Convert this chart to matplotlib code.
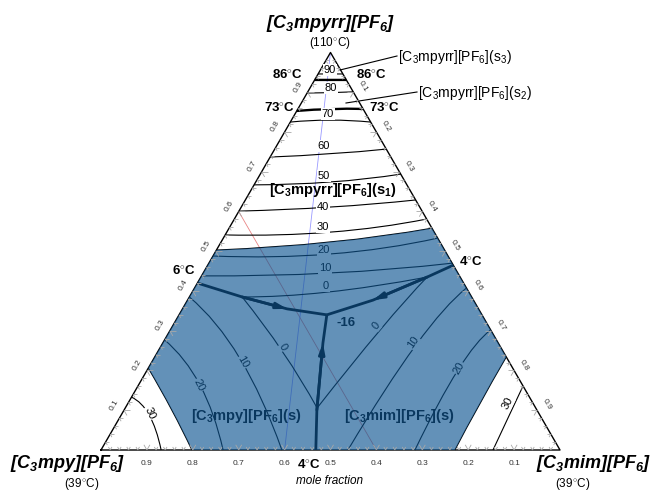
import numpy as np
import matplotlib
matplotlib.use('Agg')
from matplotlib import pyplot as plt
from matplotlib.path import Path
from matplotlib.patches import PathPatch
from matplotlib.collections import LineCollection

# Arial-like fonts, also for the subscripts
plt.rcParams['font.family'] = 'Liberation Sans'
plt.rcParams['mathtext.fontset'] = 'custom'
plt.rcParams['mathtext.rm'] = 'Liberation Sans'
plt.rcParams['mathtext.it'] = 'Liberation Sans:italic'
plt.rcParams['mathtext.bf'] = 'Liberation Sans:bold'
plt.rcParams['mathtext.bfit'] = 'Liberation Sans:italic:bold'

# compositions are given as (a, b): a = x[C3mpyrr][PF6] (top), b = x[C3mim][PF6] (right)
# isotherms in the [C3mpyrr][PF6] field: a at left edge, centre line, right edge
pyrr_T = [90, 80, 70, 60, 50, 40, 30, 20, 10]
pyrr_a_left = [0.946, 0.898, 0.825, 0.737, 0.667, 0.601, 0.541, 0.488, 0.438]
pyrr_a_mid = [0.946, 0.899, 0.830, 0.745, 0.674, 0.611, 0.548, 0.493, 0.445]
pyrr_a_right = [0.946, 0.901, 0.825, 0.757, 0.694, 0.629, 0.581, 0.533, 0.470]
# solid-solid transitions (86 and 73 C)
trans_T = [86, 73]
trans_a_left = [0.931, 0.853]
trans_a_mid = [0.931, 0.858]
trans_a_right = [0.931, 0.858]
# 0 C isotherm in the pyrr field (ends on the two valleys)
pyrr0_a = [0.385, 0.397, 0.435]
pyrr0_b = [0.115, 0.294, 0.493]
# room temperature boundaries of the shaded region
rt_pyrr_a = [0.503, 0.523, 0.558]
rt_pyrr_b = [0.0, 0.2385, 0.442]
rt_mpy_a = [0.206, 0.1006, 0.0]
rt_mpy_b = [0.0, 0.104, 0.198]
rt_mim_a = [0.234, 0.113, 0.0]
rt_mim_b = [0.766, 0.767, 0.771]

# isotherms in the [C3mpy][PF6] field
mpy_T = [0, 10, 20, 30]
mpy_a = [[0.385, 0.2465, 0.1057], [0.385, 0.231, 0.0], [0.277, 0.1635, 0.0], [0.133, 0.088, 0.0]]
mpy_b = [[0.115, 0.273, 0.418], [0.0, 0.187, 0.394], [0.0, 0.134, 0.266], [0.0, 0.061, 0.131]]
# isotherms in the [C3mim][PF6] field
mim_T = [0, 10, 20, 30]
mim_a = [[0.435, 0.302, 0.1057], [0.4075, 0.264, 0.0], [0.302, 0.2013, 0.0], [0.161, 0.0956, 0.0]]
mim_b = [[0.493, 0.457, 0.418], [0.5925, 0.554, 0.538], [0.698, 0.677, 0.684], [0.839, 0.845, 0.854]]

# eutectic valleys, from the binary eutectics to the ternary eutectic (-16 C)
valley_left_a = [0.420, 0.385, 0.355, 0.340]
valley_left_b = [0.0, 0.115, 0.228, 0.322]
valley_right_a = [0.465, 0.435, 0.377, 0.340]
valley_right_b = [0.535, 0.493, 0.404, 0.322]
valley_bottom_a = [0.0, 0.1006, 0.269, 0.340]
valley_bottom_b = [0.468, 0.420, 0.349, 0.322]

# faint section lines
red_a = [0.6, 0.0]
red_b = [0.0, 0.6]
blue_a = [1.0, 0.0]
blue_b = [0.0, 0.4]

tick_vals = [0.1, 0.2, 0.3, 0.4, 0.5, 0.6, 0.7, 0.8, 0.9]

SQ3 = np.sqrt(3) / 2


def tern(a, b):
    a = np.asarray(a, float)
    b = np.asarray(b, float)
    return b + a / 2, a * SQ3


def px(x, y):
    # position in the 653x494 picture -> axes data units
    return (x - 101) / 459, (450 - y) / 459


def quad(a3, b3):
    x, y = tern(a3, b3)
    p0 = np.array([x[0], y[0]])
    m = np.array([x[1], y[1]])
    p2 = np.array([x[2], y[2]])
    c = 2 * m - (p0 + p2) / 2
    return [p0, c, p2]


def draw_curve(ax, a3, b3, **kw):
    path = Path(quad(a3, b3), [Path.MOVETO, Path.CURVE3, Path.CURVE3])
    ax.add_patch(PathPatch(path, fill=False, **kw))


fig = plt.figure(figsize=(6.53, 4.94), dpi=100)
ax = fig.add_axes([0, 0, 1, 1])
ax.set_xlim(-101 / 459, 552 / 459)
ax.set_ylim(-44 / 459, 450 / 459)
ax.axis('off')

# triangle
tx, ty = tern([0, 0, 1, 0], [0, 1, 0, 0])
ax.plot(tx, ty, color='k', lw=1.0, zorder=2.6)

# faint lines
x, y = tern(red_a, red_b)
ax.plot(x, y, color='#e05050', lw=0.6, alpha=0.7, zorder=1.5)
x, y = tern(blue_a, blue_b)
ax.plot(x, y, color='#8080ff', lw=0.6, alpha=0.8, zorder=1.5)

# pyrr isotherms
for i in range(len(pyrr_T)):
    a3 = [pyrr_a_left[i], pyrr_a_mid[i], pyrr_a_right[i]]
    b3 = [0.0, (1 - pyrr_a_mid[i]) / 2, 1 - pyrr_a_right[i]]
    draw_curve(ax, a3, b3, edgecolor='k', lw=0.8, zorder=2)
for i in range(len(trans_T)):
    a3 = [trans_a_left[i], trans_a_mid[i], trans_a_right[i]]
    b3 = [0.0, (1 - trans_a_mid[i]) / 2, 1 - trans_a_right[i]]
    draw_curve(ax, a3, b3, edgecolor='k', lw=1.7, zorder=2)
draw_curve(ax, pyrr0_a, pyrr0_b, edgecolor='k', lw=0.8, zorder=2)
draw_curve(ax, rt_pyrr_a, rt_pyrr_b, edgecolor='k', lw=0.8, zorder=2)
draw_curve(ax, rt_mpy_a, rt_mpy_b, edgecolor='k', lw=0.8, zorder=2)
draw_curve(ax, rt_mim_a, rt_mim_b, edgecolor='k', lw=0.8, zorder=2)

for i in range(len(mpy_T)):
    draw_curve(ax, mpy_a[i], mpy_b[i], edgecolor='k', lw=0.8, zorder=2)
for i in range(len(mim_T)):
    draw_curve(ax, mim_a[i], mim_b[i], edgecolor='k', lw=0.8, zorder=2)

# eutectic valleys with arrows towards the ternary eutectic
for va, vb in [(valley_left_a, valley_left_b), (valley_right_a, valley_right_b),
               (valley_bottom_a, valley_bottom_b)]:
    x, y = tern(va, vb)
    ax.plot(x, y, color='k', lw=2.0, zorder=2.5, solid_capstyle='butt')
    ax.annotate('', xy=(x[2], y[2]), xytext=(x[1], y[1]),
                arrowprops=dict(arrowstyle='-|>,head_length=0.6,head_width=0.17',
                                color='k', lw=2.0, shrinkA=0, shrinkB=0), zorder=2.5)

# isotherm labels
lab_kw = dict(fontsize=8, ha='center', va='center', zorder=3,
              bbox=dict(boxstyle='square,pad=0.05', fc='white', ec='none'))
pyrr_lab_T = [90, 80, 70, 60, 50, 40, 30, 20, 10, 0]
pyrr_lab_pos = [(330, 70), (331, 88), (328, 114), (324, 146), (324, 176), (323, 207),
                (323, 227), (324, 250), (325, 268), (326, 286)]
for t, (xp, yp) in zip(pyrr_lab_T, pyrr_lab_pos):
    ax.text(*px(xp, yp), str(t), **lab_kw)
mpy_lab_pos = [(283, 347, -58), (243, 362, -60), (199, 385, -63), (150, 413, -65)]
for t, (xp, yp, r) in zip(mpy_T, mpy_lab_pos):
    ax.text(*px(xp, yp), str(t), rotation=r, **lab_kw)
mim_lab_pos = [(376, 326, 50), (413, 342, 55), (459, 368, 60), (508, 403, 63)]
for t, (xp, yp, r) in zip(mim_T, mim_lab_pos):
    ax.text(*px(xp, yp), str(t), rotation=r, **lab_kw)

# phase labels (under the shading)
ax.text(*px(246, 416), r'[C$_\mathbf{3}$mpy][PF$_\mathbf{6}$](s)', fontsize=10.5,
        fontweight='bold', ha='center', va='center', zorder=3)
ax.text(*px(399, 416), r'[C$_\mathbf{3}$mim][PF$_\mathbf{6}$](s)', fontsize=10.5,
        fontweight='bold', ha='center', va='center', zorder=3)
ax.text(*px(346, 323), '-16', fontsize=9.5, fontweight='bold', ha='center', va='center', zorder=3)

# shaded (liquid at room temperature) region
p = quad(rt_pyrr_a, rt_pyrr_b)
q = quad(rt_mim_a, rt_mim_b)
r = quad(rt_mpy_a, rt_mpy_b)
verts = [p[0], p[1], p[2], q[0], q[1], q[2], r[2], r[1], r[0], p[0]]
codes = [Path.MOVETO, Path.CURVE3, Path.CURVE3, Path.LINETO, Path.CURVE3, Path.CURVE3,
         Path.LINETO, Path.CURVE3, Path.CURVE3, Path.CLOSEPOLY]
ax.add_patch(PathPatch(Path(verts, codes), facecolor='#0f5692', alpha=0.65,
                       edgecolor='none', zorder=4))

# grid ticks along the edges
segs_maj, segs_min = [], []
for k in range(1, 50):
    v = k * 0.02
    L = 6 / 459 if k % 5 == 0 else 3.5 / 459
    segs = segs_maj if k % 5 == 0 else segs_min
    # bottom, left, right edge points and their inward arm directions
    for (ea, eb), dirs in [((0.0, v), [(0.5, SQ3), (-0.5, SQ3)]),
                           ((v, 0.0), [(1.0, 0.0), (0.5, -SQ3)]),
                           ((v, 1 - v), [(-1.0, 0.0), (-0.5, -SQ3)])]:
        x0, y0 = tern(ea, eb)
        for dx, dy in dirs:
            segs.append([(x0, y0), (x0 + L * dx, y0 + L * dy)])
ax.add_collection(LineCollection(segs_maj + segs_min, colors='#a8a8a8', linewidths=0.6, zorder=5))

# tick labels
off = 11 / 459
for v in tick_vals:
    x0, y0 = tern(0.0, 1 - v)
    ax.text(x0, y0 - 13 / 459, f'{v:.1f}', fontsize=6, color='#333333',
            ha='center', va='center', zorder=5)
    x0, y0 = tern(v, 0.0)
    ax.text(x0 - off * SQ3, y0 + off * 0.5, f'{v:.1f}', fontsize=6, color='#333333',
            rotation=60, ha='center', va='center', zorder=5)
    x0, y0 = tern(1 - v, v)
    ax.text(x0 + off * SQ3, y0 + off * 0.5, f'{v:.1f}', fontsize=6, color='#333333',
            rotation=-60, ha='center', va='center', zorder=5)

ax.text(*px(330, 481), 'mole fraction', fontsize=8.5, style='italic', ha='center', va='center')

# component names and melting points
name_kw = dict(fontsize=13, fontweight='bold', style='italic', ha='center', va='center')
ax.text(*px(331, 23), r'[C$_{\mathbfit{3}}$mpyrr][PF$_{\mathbfit{6}}$]', **name_kw)
ax.text(*px(330, 43), r'(110$^{\circ}$C)', fontsize=8.5, ha='center', va='center')
ax.text(*px(68, 463), r'[C$_{\mathbfit{3}}$mpy][PF$_{\mathbfit{6}}$]', **name_kw)
ax.text(*px(82, 484), r'(39$^{\circ}$C)', fontsize=8.5, ha='center', va='center')
ax.text(*px(594, 463), r'[C$_{\mathbfit{3}}$mim][PF$_{\mathbfit{6}}$]', **name_kw)
ax.text(*px(573, 484), r'(39$^{\circ}$C)', fontsize=8.5, ha='center', va='center')

# transition / eutectic temperatures
deg_kw = dict(fontsize=9.5, fontweight='bold', ha='center', va='center', zorder=6)
for xp, yp, t in [(287, 75, 86), (371, 75, 86), (279, 108, 73), (384, 108, 73),
                  (184, 271, 6), (471, 262, 4), (309, 465, 4)]:
    ax.text(*px(xp, yp), r'%d$^{\circ}$C' % t, **deg_kw)

# solid phase labels of [C3mpyrr][PF6]
ax.text(*px(333, 190), r'[C$_\mathbf{3}$mpyrr][PF$_\mathbf{6}$](s$_\mathbf{1}$)', fontsize=10.5,
        fontweight='bold', ha='center', va='center', zorder=3)
ax.text(*px(398, 57), r'[C$_3$mpyrr][PF$_6$](s$_3$)', fontsize=10, ha='left', va='center')
ax.text(*px(418, 93), r'[C$_3$mpyrr][PF$_6$](s$_2$)', fontsize=10, ha='left', va='center')
lx, ly = px(np.array([397, 340]), np.array([56, 70]))
ax.plot(lx, ly, color='k', lw=0.8)
lx, ly = px(np.array([417, 346]), np.array([92, 103]))
ax.plot(lx, ly, color='k', lw=0.8)

fig.savefig('out.png', dpi=100)
